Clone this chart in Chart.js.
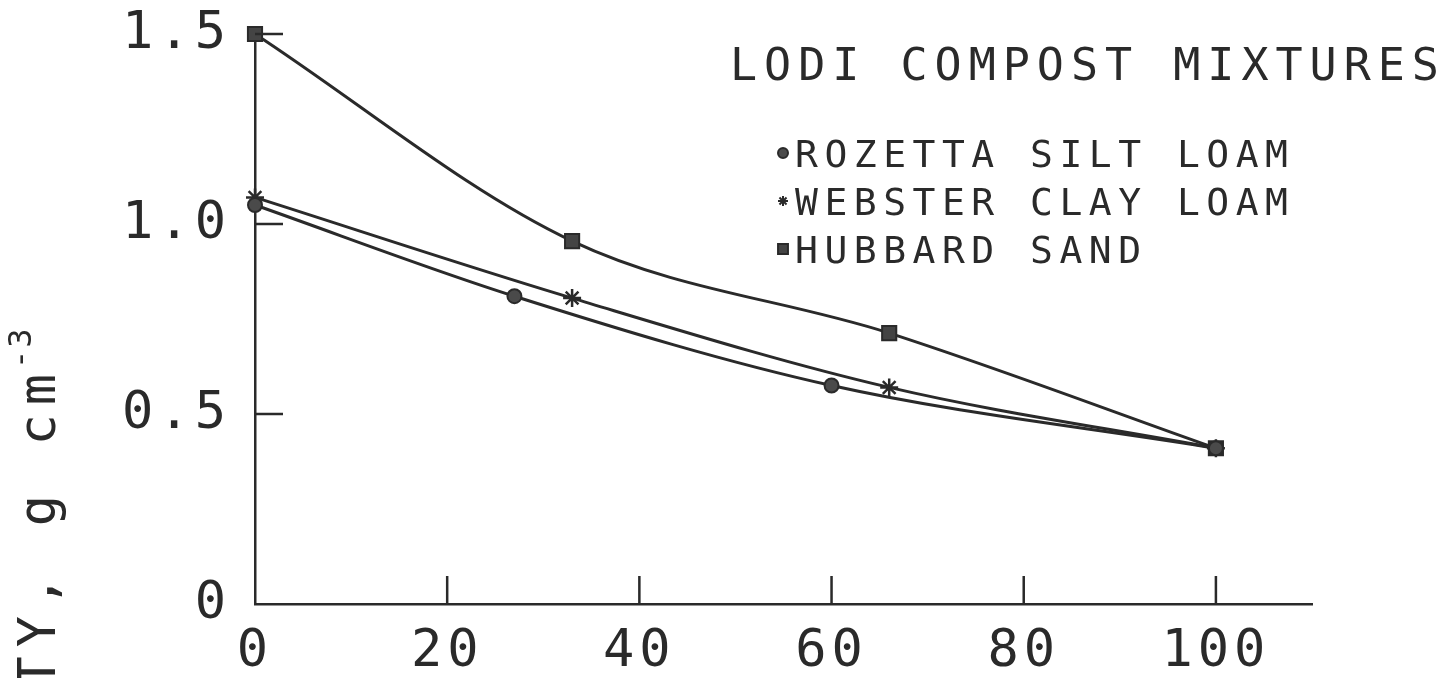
<!DOCTYPE html>
<html>
<head>
<meta charset="utf-8">
<title>Lodi compost mixtures</title>
<script src="https://cdn.jsdelivr.net/npm/chart.js@4/dist/chart.umd.min.js"></script>
<style>
  html, body { margin: 0; padding: 0; background: #fff; overflow: hidden; }
  #wrap { position: relative; width: 1455px; height: 678px; }
</style>
</head>
<body>
<div id="wrap"><canvas id="chart" width="1455" height="678"></canvas></div>
<script>
// compost content of the mixture (x) and bulk density, g cm-3 (y)
const ROZETTA_X = [0, 27, 60, 100];
const ROZETTA_Y = [1.05, 0.81, 0.575, 0.41];
const WEBSTER_X = [0, 33, 66, 100];
const WEBSTER_Y = [1.07, 0.805, 0.57, 0.41];
const HUBBARD_X = [0, 33, 66, 100];
const HUBBARD_Y = [1.50, 0.955, 0.713, 0.41];

const SERIES_LABELS = ["ROZETTA SILT LOAM", "WEBSTER CLAY LOAM", "HUBBARD SAND"];
const LEGEND_TITLE = "LODI COMPOST MIXTURES";
const Y_TITLE = "BULK DENSITY, g cm";
const Y_TITLE_EXP = "-3";

const X_TICKS = [0, 20, 40, 60, 80, 100];
const X_LABELS = ["0", "20", "40", "60", "80", "100"];
const Y_TICKS = [0, 0.5, 1.0, 1.5];
const Y_LABELS = ["0", "0.5", "1.0", "1.5"];

const INK = "#2a2a2a";
const FONT = '"DejaVu Sans Mono", "Liberation Mono", monospace';

const pts = (xs, ys) => xs.map((x, i) => ({ x, y: ys[i] }));

// plotter-style spacing for the tick labels
const spacing = {
  id: "spacing",
  beforeDraw(chart) { chart.ctx.letterSpacing = "5px"; }
};

// short inward tick marks on both axes
const innerTicks = {
  id: "innerTicks",
  afterDraw(chart) {
    const { ctx, chartArea, scales } = chart;
    const len = 28;
    ctx.save();
    ctx.strokeStyle = INK;
    ctx.lineWidth = 2.5;
    ctx.beginPath();
    scales.x.ticks.forEach(t => {
      if (t.value === 0) return;
      const px = scales.x.getPixelForValue(t.value);
      ctx.moveTo(px, chartArea.bottom);
      ctx.lineTo(px, chartArea.bottom - len);
    });
    scales.y.ticks.forEach(t => {
      if (t.value === 0) return;
      const py = scales.y.getPixelForValue(t.value);
      ctx.moveTo(chartArea.left, py);
      ctx.lineTo(chartArea.left + len, py);
    });
    ctx.stroke();
    ctx.restore();
  }
};

// legend block inside the plot, and the rotated y title
const labels = {
  id: "labels",
  afterDraw(chart) {
    const { ctx, chartArea } = chart;
    ctx.save();
    ctx.fillStyle = INK;
    ctx.strokeStyle = INK;
    ctx.textBaseline = "alphabetic";
    ctx.textAlign = "left";

    const lx = chartArea.left + 475;
    ctx.font = "45px " + FONT;
    ctx.letterSpacing = "7px";
    ctx.fillText(LEGEND_TITLE, lx, chartArea.top + 46);

    ctx.font = "38px " + FONT;
    ctx.letterSpacing = "6.5px";
    chart.data.datasets.forEach((ds, i) => {
      const by = chartArea.top + 133 + i * 48;
      ctx.fillStyle = ds.pointBackgroundColor;
      ctx.lineWidth = 2;
      Chart.helpers.drawPoint(ctx, {
        pointStyle: ds.pointStyle,
        radius: ds.pointStyle === "rect" ? 7 : 5,
        rotation: 0,
        borderWidth: 2
      }, lx + 53, by - 14);
      ctx.fillStyle = INK;
      ctx.fillText(ds.label, lx + 65, by);
    });

    // y title, mostly running off the bottom edge
    ctx.translate(55, chartArea.top + 331);
    ctx.rotate(-Math.PI / 2);
    ctx.font = "52px " + FONT;
    ctx.letterSpacing = "9px";
    ctx.textAlign = "right";
    ctx.fillText(Y_TITLE, 0, 0);
    ctx.font = "32px " + FONT;
    ctx.letterSpacing = "2px";
    ctx.textAlign = "left";
    ctx.fillText(Y_TITLE_EXP, -4, -24);
    ctx.restore();
  }
};

const lineStyle = {
  borderColor: INK,
  borderWidth: 3,
  cubicInterpolationMode: "monotone",
  pointBorderColor: INK,
  pointBorderWidth: 2,
  fill: false,
  clip: false
};

new Chart(document.getElementById("chart"), {
  type: "line",
  data: {
    datasets: [
      { ...lineStyle, label: SERIES_LABELS[0], data: pts(ROZETTA_X, ROZETTA_Y),
        pointStyle: "circle", pointRadius: 7, pointBackgroundColor: "#4a4a4a" },
      { ...lineStyle, label: SERIES_LABELS[1], data: pts(WEBSTER_X, WEBSTER_Y),
        pointStyle: "star", pointRadius: 9, pointBorderWidth: 2.5, pointBackgroundColor: INK },
      { ...lineStyle, label: SERIES_LABELS[2], data: pts(HUBBARD_X, HUBBARD_Y),
        pointStyle: "rect", pointRadius: 10, pointBackgroundColor: "#444" }
    ]
  },
  options: {
    responsive: false,
    devicePixelRatio: 1,
    animation: false,
    layout: { padding: { top: 34, right: 143, bottom: 0, left: 0 } },
    plugins: {
      legend: { display: false },
      tooltip: { enabled: false }
    },
    scales: {
      x: {
        type: "linear",
        min: 0,
        max: 110,
        afterBuildTicks: s => { s.ticks = X_TICKS.map(v => ({ value: v })); },
        afterFit: s => { s.height = 74; s.paddingLeft = 0; s.paddingRight = 0; },
        grid: { display: false, drawTicks: false },
        border: { display: true, color: INK, width: 2.5 },
        ticks: {
          callback: (v, i) => X_LABELS[i],
          color: INK,
          padding: 17,
          maxRotation: 0,
          font: { family: FONT, size: 52 }
        }
      },
      y: {
        type: "linear",
        min: 0,
        max: 1.5,
        afterBuildTicks: s => { s.ticks = Y_TICKS.map(v => ({ value: v })); },
        afterFit: s => { s.width = 255; s.paddingTop = 0; s.paddingBottom = 0; },
        grid: { display: false, drawTicks: false },
        border: { display: true, color: INK, width: 2.5 },
        ticks: {
          callback: (v, i) => Y_LABELS[i],
          color: INK,
          padding: 24,
          font: { family: FONT, size: 52 }
        }
      }
    }
  },
  plugins: [spacing, innerTicks, labels]
});
</script>
</body>
</html>
